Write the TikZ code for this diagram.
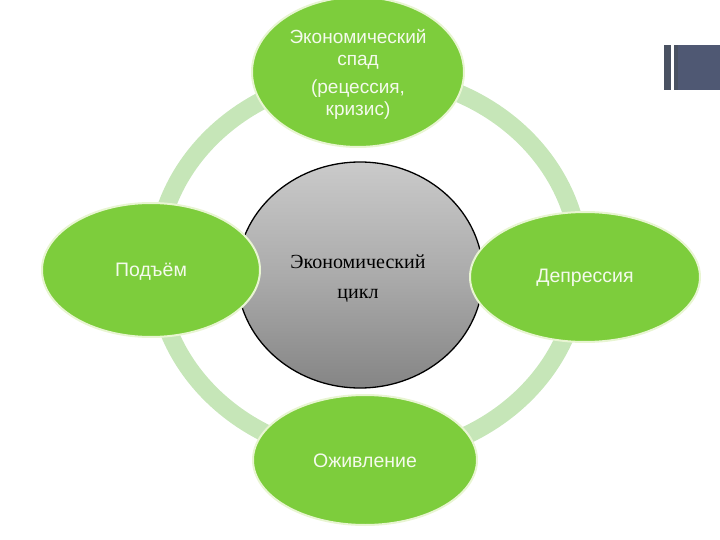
\documentclass[tikz,border=0pt]{standalone}
\usepackage{fontspec}
\setmainfont{Liberation Sans}
\newfontfamily\cycleserif{Liberation Serif}
\usetikzlibrary{shapes.geometric}
\definecolor{leaf}{HTML}{7DCD3C}
\definecolor{rim}{HTML}{E8F5D2}
\definecolor{paletext}{HTML}{F4FAEC}
\definecolor{ringgreen}{HTML}{C6E6B8}
\definecolor{slate}{HTML}{4F5873}
\definecolor{slatedark}{HTML}{4A5262}
\definecolor{coretop}{HTML}{CACACA}
\definecolor{coremid}{HTML}{ABABAB}
\definecolor{corebot}{HTML}{858585}
\begin{document}
\begin{tikzpicture}[x=1pt,y=-1pt,
  phase/.style={ellipse, fill=leaf, draw=rim, line width=2pt, inner sep=0pt},
  phasetext/.style={text=paletext, font=\fontsize{19.5}{22}\selectfont, align=center, inner sep=0pt},
  core/.style={ellipse, top color=coretop, bottom color=corebot, middle color=coremid,
    draw=black, line width=1.3pt, inner sep=0pt},
  coretext/.style={text=black, font=\cycleserif\fontsize{20}{30}\selectfont, align=center, inner sep=0pt}]
\useasboundingbox (0,0) rectangle (720,540);
% ring
\draw[ringgreen, line width=18pt] (368,266) ellipse [x radius=212, y radius=191];
% centre
\node[core, minimum width=246pt, minimum height=226pt] (cycle) at (360,275) {};
\node[coretext] (cyclelabel) at (358,279) {Экономический\\цикл};
% phases
\node[phase, minimum width=212pt, minimum height=150pt] (fall) at (358,72) {};
\node[phasetext, font=\fontsize{19}{22}\selectfont] (falllabel) at (358,74)
  {Экономический\\спад\\[6pt](рецессия,\\кризис)};
\node[phase, minimum width=218pt, minimum height=134pt] (rise) at (151,270) {};
\node[phasetext] (riselabel) at (151,272) {Подъём};
\node[phase, minimum width=230pt, minimum height=130pt] (depr) at (585,277) {};
\node[phasetext] (deprlabel) at (585,278) {Депрессия};
\node[phase, minimum width=224pt, minimum height=130pt] (revive) at (365,460) {};
\node[phasetext] (revivelabel) at (365,461) {Оживление};
% corner mark
\fill[slatedark] (664,45) rectangle (671,90);
\fill[slate] (674,45) rectangle (720,90);
\fill[slatedark] (674,45) rectangle (678,90);
\end{tikzpicture}
\end{document}
